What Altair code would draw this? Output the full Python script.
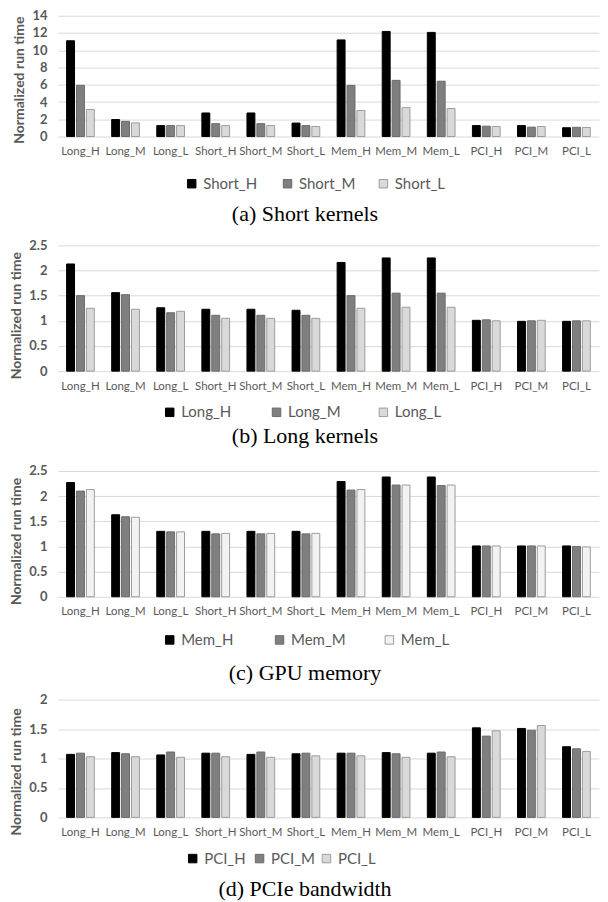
import altair as alt
import pandas as pd

categories = ["Long_H", "Long_M", "Long_L", "Short_H", "Short_M", "Short_L",
              "Mem_H", "Mem_M", "Mem_L", "PCI_H", "PCI_M", "PCI_L"]

# (a) Short kernels
short_series = ["Short_H", "Short_M", "Short_L"]
short_H = [11.1, 1.97, 1.27, 2.73, 2.73, 1.56, 11.2, 12.18, 12.07, 1.27, 1.27, 1.02]
short_M = [5.94, 1.76, 1.27, 1.49, 1.49, 1.27, 5.93, 6.51, 6.41, 1.20, 1.09, 1.07]
short_L = [3.14, 1.58, 1.27, 1.27, 1.27, 1.16, 3.02, 3.35, 3.25, 1.16, 1.16, 1.05]
short_ticks = [0, 2, 4, 6, 8, 10, 12, 14]

# (b) Long kernels
long_series = ["Long_H", "Long_M", "Long_L"]
long_H = [2.13, 1.56, 1.26, 1.23, 1.23, 1.21, 2.16, 2.25, 2.25, 1.01, 0.99, 0.99]
long_M = [1.50, 1.52, 1.16, 1.11, 1.11, 1.11, 1.50, 1.55, 1.55, 1.02, 1.00, 1.00]
long_L = [1.25, 1.23, 1.19, 1.05, 1.05, 1.05, 1.25, 1.27, 1.27, 1.00, 1.01, 1.00]
long_ticks = [0, 0.5, 1, 1.5, 2, 2.5]

# (c) GPU memory
mem_series = ["Mem_H", "Mem_M", "Mem_L"]
mem_H = [2.27, 1.63, 1.30, 1.30, 1.30, 1.30, 2.29, 2.38, 2.38, 1.01, 1.01, 1.01]
mem_M = [2.10, 1.59, 1.29, 1.25, 1.25, 1.25, 2.12, 2.22, 2.21, 1.01, 1.01, 1.00]
mem_L = [2.13, 1.58, 1.29, 1.26, 1.26, 1.26, 2.13, 2.22, 2.22, 1.01, 1.01, 0.99]
mem_ticks = [0, 0.5, 1, 1.5, 2, 2.5]

# (d) PCIe bandwidth
pci_series = ["PCI_H", "PCI_M", "PCI_L"]
pci_H = [1.07, 1.10, 1.06, 1.09, 1.07, 1.08, 1.09, 1.10, 1.09, 1.52, 1.51, 1.20]
pci_M = [1.09, 1.08, 1.11, 1.09, 1.11, 1.09, 1.09, 1.08, 1.11, 1.38, 1.48, 1.165]
pci_L = [1.03, 1.03, 1.02, 1.03, 1.02, 1.045, 1.045, 1.02, 1.03, 1.47, 1.56, 1.12]
pci_ticks = [0, 0.5, 1, 1.5, 2]

captions = ["(a) Short kernels", "(b) Long kernels", "(c) GPU memory", "(d) PCIe bandwidth"]

W = 542
TXT = "#595959"
FONT = "Lato"


def panel(series, vals, colors, strokes, ticks, h, caption, cap_y,
          leg_x, leg_y, col_pad, title_y, ext_y=None):
    rows = []
    for s, v in zip(series, vals):
        for c, val in zip(categories, v):
            rows.append({"category": c, "series": s, "value": val})
    df = pd.DataFrame(rows)
    bars = alt.Chart(df).mark_bar(strokeWidth=1).encode(
        x=alt.X("category:N", sort=categories, title=None,
                scale=alt.Scale(paddingInner=0.385, paddingOuter=0.1925),
                axis=alt.Axis(labelAngle=0, labelFont=FONT, labelFontSize=11.5,
                              labelColor=TXT, ticks=False, tickSize=0,
                              domain=False, labelPadding=9, grid=False)),
        xOffset=alt.XOffset("series:N", sort=series,
                            scale=alt.Scale(paddingInner=0.2, paddingOuter=0)),
        y=alt.Y("value:Q",
                scale=alt.Scale(domain=[ticks[0], ticks[-1]], nice=False),
                axis=alt.Axis(values=ticks, format="~g",
                              title="Normalized run time",
                              labelFont=FONT, labelFontSize=13,
                              labelFontWeight="bold", labelColor=TXT,
                              labelPadding=11, ticks=False, tickSize=0,
                              domain=False, grid=True, gridColor="#d9d9d9",
                              gridWidth=1, titleFont=FONT, titleFontSize=14,
                              titleFontWeight="bold", titleColor=TXT,
                              titlePadding=5, titleY=title_y)),
        color=alt.Color("series:N", sort=series,
                        scale=alt.Scale(domain=series, range=colors),
                        legend=alt.Legend(orient="none", legendX=leg_x,
                                          legendY=leg_y, direction="horizontal",
                                          title=None, labelFont=FONT,
                                          labelFontSize=15, labelColor=TXT,
                                          symbolType="square", symbolSize=72,
                                          symbolStrokeColor="#8c8c8c",
                                          symbolStrokeWidth=1,
                                          columnPadding=col_pad,
                                          gridAlign="all", labelOffset=4,
                                          padding=0)),
        stroke=alt.Stroke("series:N", sort=series,
                          scale=alt.Scale(domain=series, range=strokes),
                          legend=None),
    )
    cap = alt.Chart(pd.DataFrame({"caption": [caption]})).mark_text(
        font="Liberation Serif", fontSize=22, color="black",
        align="center", baseline="middle"
    ).encode(text="caption:N", x=alt.value(247.5), y=alt.value(cap_y))
    layers = [bars, cap]
    if ext_y is not None:
        ext = alt.Chart(pd.DataFrame({"caption": [caption]})).mark_rule(
            strokeOpacity=0, strokeWidth=1
        ).encode(x=alt.value(200), x2=alt.value(300), y=alt.value(ext_y))
        layers.append(ext)
    return alt.layer(*layers).properties(width=W, height=h)


fills = ["#000000", "#7f7f7f", "#d9d9d9"]
fills_c = ["#000000", "#7f7f7f", "#f2f2f2"]
strokes = ["#000000", "#6a6a6a", "#9d9d9d"]

pa = panel(short_series, [short_H, short_M, short_L], fills, strokes, short_ticks,
           121, captions[0], 199, 126.5, 160.5, 20, 64, ext_y=214)
pb = panel(long_series, [long_H, long_M, long_L], fills, strokes, long_ticks,
           126, captions[1], 191, 104.5, 159.5, 35, 70, ext_y=210)
pc = panel(mem_series, [mem_H, mem_M, mem_L], fills_c, strokes, mem_ticks,
           126, captions[2], 202, 104.5, 161.5, 36, 70)
pd_ = panel(pci_series, [pci_H, pci_M, pci_L], fills, strokes, pci_ticks,
            118, captions[3], 190, 127.5, 151.5, 3, 72)

chart = alt.vconcat(pa, pb, pc, pd_, spacing=8).resolve_scale(
    x="independent", y="independent", xOffset="independent",
    color="independent", stroke="independent"
).resolve_legend(color="independent", stroke="independent").properties(
    padding={"left": 1, "top": 0, "right": 0, "bottom": 0}
).configure_view(stroke="transparent")

chart.save("out.html", embed_options={"renderer": "svg", "actions": False})
